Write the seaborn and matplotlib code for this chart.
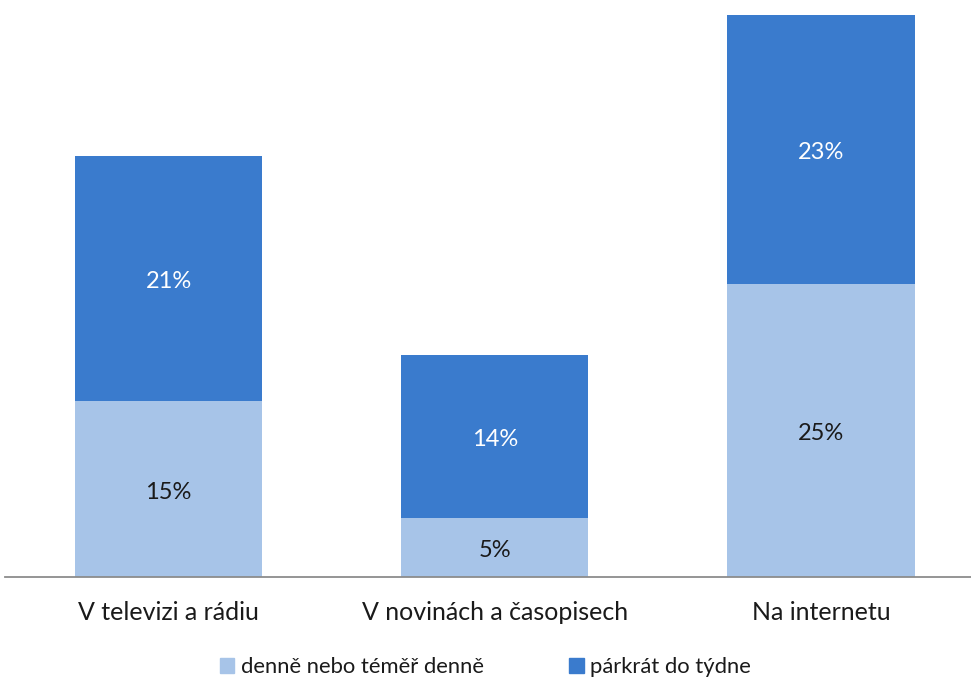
import pandas as pd
import seaborn as sns
import matplotlib.pyplot as plt
from matplotlib.patches import Patch

# Data
kategorie = ['V televizi a rádiu', 'V novinách a časopisech', 'Na internetu']
denne = [15, 5, 25]
parkrat = [21, 14, 23]
serie = ['denně nebo téměř denně', 'párkrát do týdne']

barva_svetla = '#A7C4E8'
barva_tmava = '#3A7BCD'

df = pd.DataFrame({'kategorie': kategorie, 'denne': denne, 'parkrat': parkrat})
df['celkem'] = df['denne'] + df['parkrat']

sns.set_style('white')
plt.rcParams['font.family'] = ['Lato', 'DejaVu Sans']

fig = plt.figure(figsize=(9.71, 6.78), dpi=100)
ax = fig.add_axes([5 / 971, 101 / 678, 966 / 971, 562 / 678])

# stacked bars: totals first, the bottom series drawn over them
sns.barplot(data=df, x='kategorie', y='celkem', color=barva_tmava, width=0.574,
            saturation=1, linewidth=0, ax=ax)
sns.barplot(data=df, x='kategorie', y='denne', color=barva_svetla, width=0.574,
            saturation=1, linewidth=0, ax=ax)

for i, row in df.iterrows():
    ax.text(i, row['denne'] / 2 - 0.25, f"{row['denne']}%", ha='center', va='center',
            fontsize=17, color='#1a1a1a')
    ax.text(i, row['denne'] + row['parkrat'] / 2 - 0.25, f"{row['parkrat']}%",
            ha='center', va='center', fontsize=17, color='white')

ax.set_ylim(0, 48)
ax.set_xlim(-0.5015, 2.46)
ax.set_xlabel('')
ax.set_ylabel('')
ax.set_yticks([])
ax.tick_params(axis='x', length=0, labelsize=18, pad=17, colors='#1a1a1a')
sns.despine(ax=ax, left=True, right=True, top=True)
ax.spines['bottom'].set_color('#8C8C8C')
ax.spines['bottom'].set_linewidth(1.3)

handles = [Patch(color=barva_svetla, label=serie[0]), Patch(color=barva_tmava, label=serie[1])]
fig.legend(handles=handles, loc='center', bbox_to_anchor=(0.5, 11 / 678), ncol=2,
           frameon=False, fontsize=15.8, handlelength=0.65, handleheight=0.65,
           handletextpad=0.3, columnspacing=3.9, labelcolor='#1a1a1a')

fig.savefig('out.png', dpi=100)
